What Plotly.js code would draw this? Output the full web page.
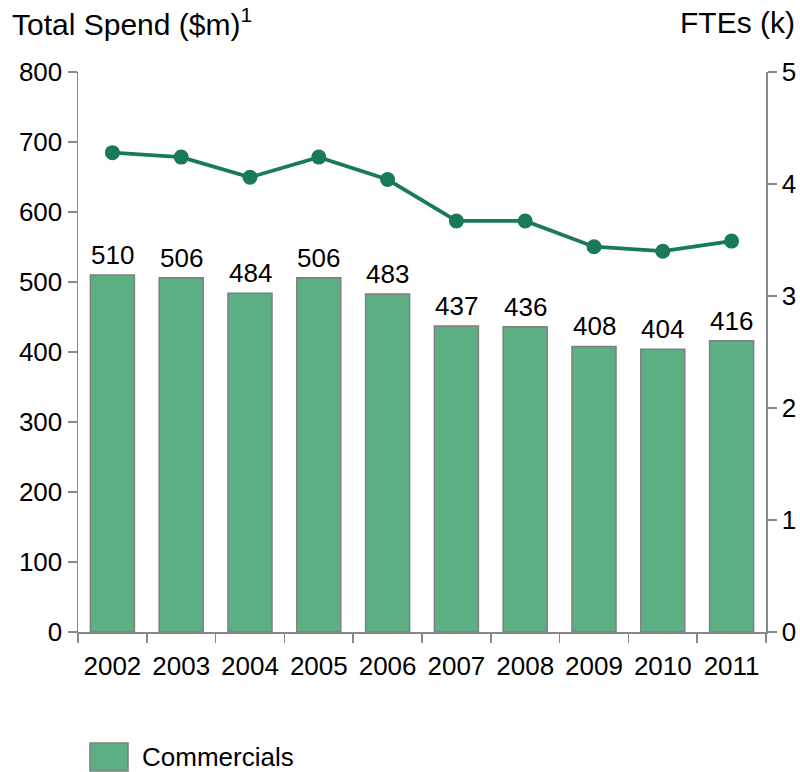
<!DOCTYPE html>
<html><head><meta charset="utf-8">
<script src="https://cdn.plot.ly/plotly-3.0.1.min.js"></script>
<style>body{margin:0;background:#fff}#c{width:800px;height:772px}</style>
</head><body><div id="c"></div>
<script>
const years = ['2002','2003','2004','2005','2006','2007','2008','2009','2010','2011'];
const spend = [510,506,484,506,483,437,436,408,404,416];
const ftes = [4.28,4.24,4.06,4.24,4.04,3.67,3.67,3.44,3.40,3.49];
const leftTicks = [0,100,200,300,400,500,600,700,800];
const rightTicks = [0,1,2,3,4,5];
const seriesName = 'Commercials';

const font = 'Liberation Sans, Arial, sans-serif';
const barColor = '#5caf82', barLine = '#7f7f7f';
const traces = [
  {type:'bar', x:years, y:spend, name:seriesName, showlegend:false,
   marker:{color:barColor, line:{color:barLine, width:1.5}}, hoverinfo:'skip'},
  {type:'scatter', mode:'lines+markers', x:years, y:ftes, yaxis:'y2', showlegend:false,
   cliponaxis:false,
   line:{color:'#1b7a56', width:3.8}, marker:{color:'#1b7a56', size:15}}
];
const axisCommon = {showline:true, linecolor:'#888', linewidth:1.5, ticks:'outside', ticklen:9,
  tickcolor:'#888', tickwidth:1.5, showgrid:false, zeroline:false, tickfont:{size:26}};
// category index i corresponds to years[i]
const barLabels = years.map((yr, i) => ({
  text:String(spend[i]), x:i, y:spend[i], xref:'x', yref:'y', yanchor:'bottom',
  yshift:3, showarrow:false, font:{size:26}
}));
const layout = {
  width:800, height:772, margin:{l:78, r:34, t:72, b:140, autoexpand:false},
  paper_bgcolor:'#fff', plot_bgcolor:'#fff',
  font:{family:font, size:26, color:'#000'},
  bargap:0.36, showlegend:false,
  xaxis:Object.assign({type:'category', categoryarray:years, range:[-0.5, years.length-0.5], tickson:'boundaries',
    tickangle:0, automargin:false, ticklabelstandoff:10}, axisCommon),
  yaxis:Object.assign({range:[0,800], tickvals:leftTicks, automargin:false}, axisCommon),
  yaxis2:Object.assign({range:[0,5], tickvals:rightTicks, overlaying:'y', side:'right', automargin:false}, axisCommon),
  shapes:[
    {type:'rect', xref:'paper', yref:'paper', x0:0.0174, x1:0.0727, y0:-0.248, y1:-0.198,
     fillcolor:barColor, line:{color:barLine, width:1.5}}
  ],
  annotations:[
    {text:'Total Spend ($m)<sup>1</sup>', xref:'paper', yref:'paper', x:-0.099, xanchor:'left',
     y:1.089, yanchor:'middle', showarrow:false, font:{size:30}},
    {text:'FTEs (k)', xref:'paper', yref:'paper', x:1.045, xanchor:'right',
     y:1.089, yanchor:'middle', showarrow:false, font:{size:30}},
    {text:seriesName, xref:'paper', yref:'paper', x:0.0901, xanchor:'left',
     y:-0.223, yanchor:'middle', showarrow:false, font:{size:26}}
  ].concat(barLabels)
};
Plotly.newPlot('c', traces, layout, {displayModeBar:false, staticPlot:true});
</script></body></html>
